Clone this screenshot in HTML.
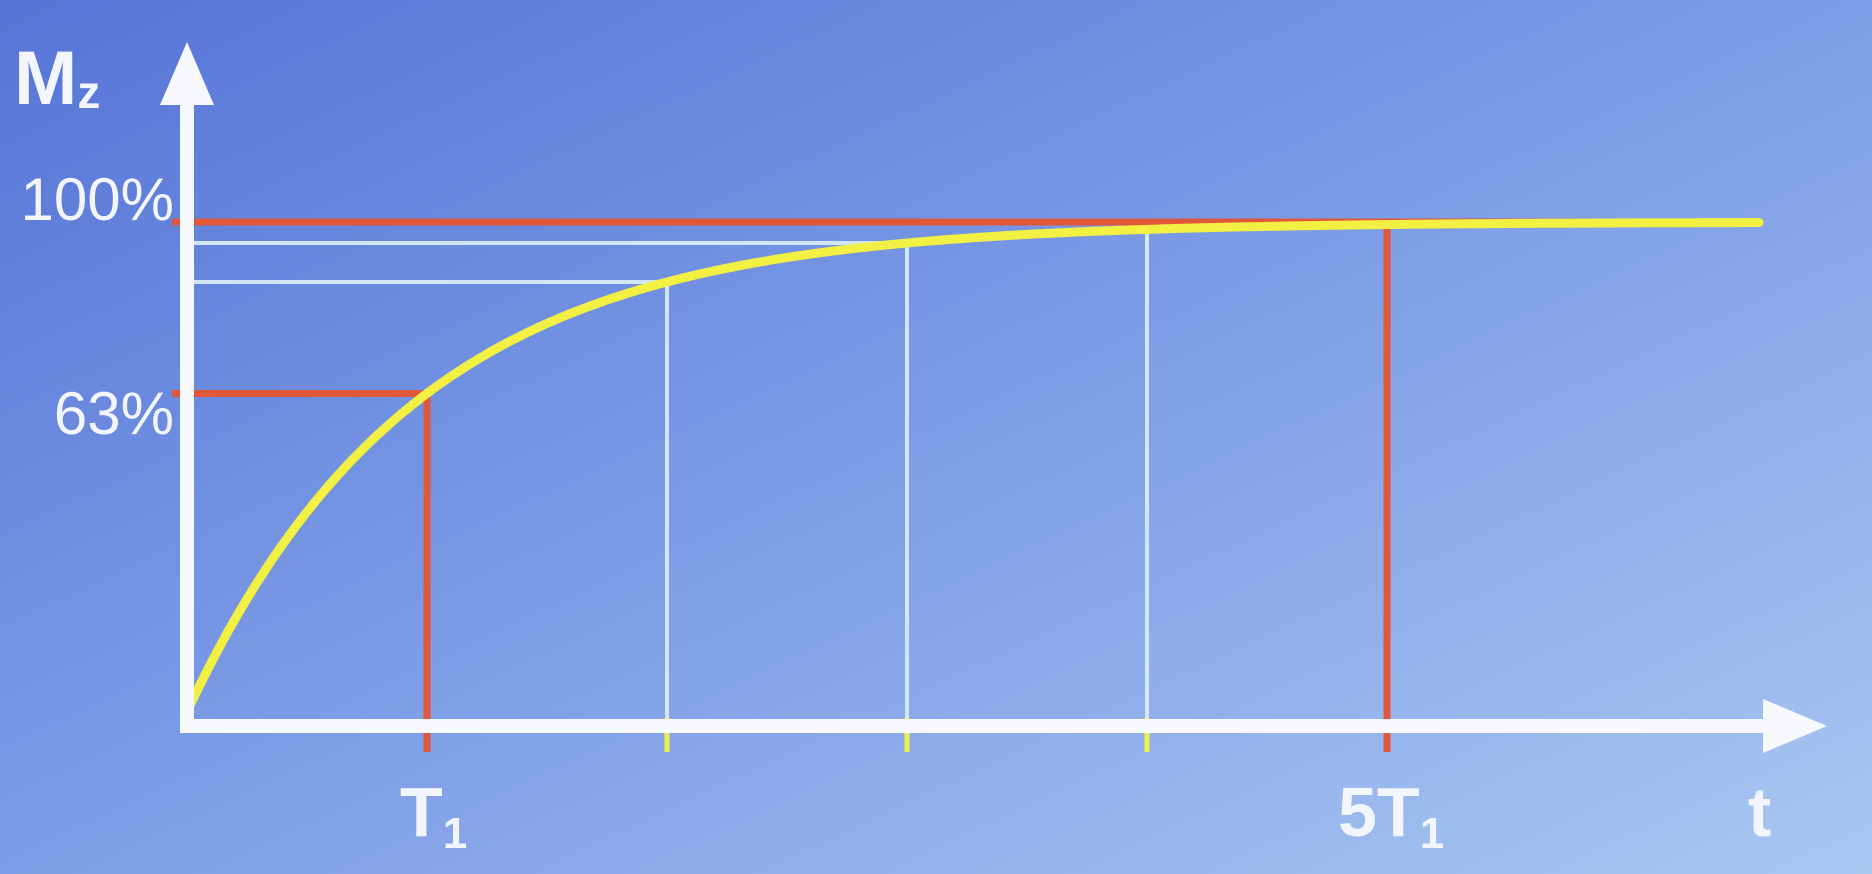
<!DOCTYPE html>
<html><head><meta charset="utf-8"><style>
html,body{margin:0;padding:0;width:1872px;height:874px;overflow:hidden}
svg{display:block}
text{font-family:"Liberation Sans",sans-serif;fill:#f4f6ff;font-weight:bold}
</style></head><body>
<svg id="chart" width="1872" height="874" viewBox="0 0 1872 874">
<defs><linearGradient id="bg" x1="0" y1="0" x2="1" y2="1">
<stop offset="0" stop-color="#5674d6"/><stop offset="0.5" stop-color="#7d9de6"/><stop offset="1" stop-color="#a9c8f2"/></linearGradient></defs>
<rect width="1872" height="874" fill="url(#bg)"/>
<g id="grid"></g>
<g id="marks"></g>
<g id="axes"></g>
<text x="14" y="104" font-size="76">M<tspan font-size="46" dy="4">z</tspan></text>
<text x="174" y="220" font-size="60" text-anchor="end" style="font-weight:normal">100%</text>
<text x="174" y="434" font-size="60" text-anchor="end" style="font-weight:normal">63%</text>
<text x="400" y="836" font-size="70">T<tspan font-size="44" dy="12">1</tspan></text>
<text x="1338" y="836" font-size="70">5T<tspan font-size="44" dy="12">1</tspan></text>
<text x="1748" y="836" font-size="70">t</text>
</svg>
<script>
const tauMarks = [1, 2, 3, 4, 5];
const refLevels = [1.0, 0.65];
const tMax = 6.55;
const X0 = 187, TU = 240;
const x = t => X0 + t * TU;
const y = v => 712 - v * 490;
const NS = "http://www.w3.org/2000/svg";
function mk(parent, tag, attrs){const e=document.createElementNS(NS,tag);for(const k in attrs)e.setAttribute(k,attrs[k]);document.getElementById(parent).appendChild(e);return e;}
const f = t => 1 - Math.exp(-t * 1.05);
tauMarks.slice(1,4).forEach(t=>{
  const v=f(t);
  if(t<4){
    const h=mk('grid','line',{x1:x(0),y1:y(v),x2:x(t),y2:y(v),stroke:'#cfe6fb','stroke-width':4});
    
    
  }
  const vl=mk('grid','line',{x1:x(t),y1:y(v),x2:x(t),y2:752,stroke:'#cfe6fb','stroke-width':4});
  
  
  const tk=mk('grid','line',{x1:x(t),y1:718,x2:x(t),y2:752,stroke:'#f2ef4a','stroke-width':5});
  
  
});
const r100=mk('grid','line',{x1:172,y1:y(refLevels[0]),x2:x(tMax),y2:y(refLevels[0]),stroke:'#e0573a','stroke-width':7});


const r63=mk('grid','line',{x1:172,y1:y(refLevels[1]),x2:x(1),y2:y(refLevels[1]),stroke:'#e0573a','stroke-width':7});


[1,5].forEach(t=>{
  const l=mk('grid','line',{x1:x(t),y1:y(t===1?refLevels[1]:refLevels[0]),x2:x(t),y2:752,stroke:'#e0573a','stroke-width':7});
  
  
});
let d='';
for(let i=0;i<=300;i++){const t=tMax*i/300;d+=(i?'L':'M')+x(t).toFixed(1)+' '+y(f(t)).toFixed(1);}
const c=mk('marks','path',{d:d,fill:'none',stroke:'#f3f044','stroke-width':9,'stroke-linecap':'round'});


const al=mk('axes','path',{d:'M187 732 L187 100 M180 726 L1770 726',fill:'none',stroke:'#f7f9ff','stroke-width':14});


const ah=mk('axes','path',{d:'M187 42 L160 105 L214 105 Z M1827 726 L1763 699 L1763 753 Z',fill:'#f7f9ff'});


</script>
</body></html>
